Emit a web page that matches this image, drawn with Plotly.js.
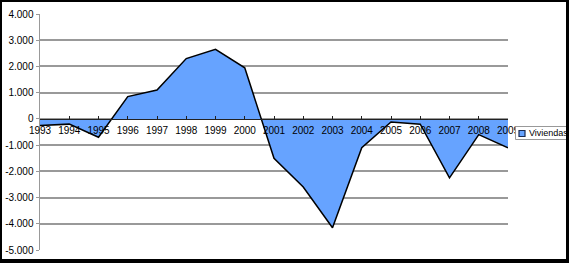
<!DOCTYPE html>
<html><head><meta charset="utf-8">
<script src="https://cdn.plot.ly/plotly-3.0.1.min.js"></script>
<style>html,body{margin:0;padding:0;background:#fff;overflow:hidden}
#wrap{position:absolute;left:0;top:0;width:564px;height:257px;border-style:solid;border-color:#000;border-width:2px 3px 4px 2px;overflow:hidden}
#chart{position:absolute;left:-2px;top:-2px;width:569px;height:263px}</style>
</head><body><div id="wrap"><div id="chart"></div></div>
<script>
var years = [1993,1994,1995,1996,1997,1998,1999,2000,2001,2002,2003,2004,2005,2006,2007,2008,2009];
var viviendas = [-250,-200,-700,850,1100,2300,2650,1950,-1500,-2600,-4150,-1100,-120,-200,-2250,-600,-1100];
var seriesName = 'Viviendas';
var yTickVals = [4000,3000,2000,1000,0,-1000,-2000,-3000,-4000,-5000];
var yTickText = ['4.000','3.000','2.000','1.000','0','-1.000','-2.000','-3.000','-4.000','-5.000'];
var xTickText = years.map(String);

var fillColor = '#66a3ff';
var trace = {
  x: years, y: viviendas, name: seriesName, type: 'scatter', mode: 'lines',
  fill: 'tozeroy', fillcolor: fillColor, showlegend: false,
  line: {color: '#000000', width: 1.5}
};
// plot area: x 40..508 px, y 14..250 px
function px(x) { return (x - 40) / 468; }
function py(y) { return (250 - y) / 236; }
var layout = {
  width: 569, height: 263,
  margin: {l: 40, r: 61, t: 14, b: 13, pad: 0, autoexpand: false},
  paper_bgcolor: '#ffffff', plot_bgcolor: '#ffffff',
  font: {family: 'Liberation Sans, Arial, sans-serif', size: 10, color: '#000'},
  showlegend: false,
  xaxis: {
    range: [1993, 2009], tickvals: years, ticktext: xTickText,
    anchor: 'free', position: 5000/9000,
    showgrid: false, zeroline: false,
    showline: true, linecolor: '#222', linewidth: 1.5,
    ticks: 'inside', ticklen: 3, tickcolor: '#222',
    ticklabelstandoff: 2,
    tickfont: {size: 10}
  },
  yaxis: {
    range: [-5000, 4000], tickvals: yTickVals, ticktext: yTickText,
    showgrid: true, gridcolor: '#999999', gridwidth: 2,
    zeroline: false, showline: true, linecolor: '#999999', linewidth: 1.5,
    ticks: 'outside', ticklen: 3, tickcolor: '#999999',
    tickfont: {size: 10}
  },
  shapes: [
    {type: 'rect', xref: 'paper', yref: 'paper', x0: px(515.5), x1: px(580), y0: py(139.5), y1: py(126.5),
     line: {color: '#999', width: 1}, fillcolor: '#fff', layer: 'above'},
    {type: 'rect', xref: 'paper', yref: 'paper', x0: px(519), x1: px(525), y0: py(136.5), y1: py(130.5),
     line: {color: '#1a2a50', width: 1.2}, fillcolor: fillColor, layer: 'above'}
  ],
  annotations: [
    {text: seriesName, xref: 'paper', yref: 'paper', x: px(526.5), y: py(133), xanchor: 'left', yanchor: 'middle',
     showarrow: false, font: {size: 9, color: '#000'}}
  ]
};
Plotly.newPlot('chart', [trace], layout, {displayModeBar: false, staticPlot: true});
</script></body></html>
